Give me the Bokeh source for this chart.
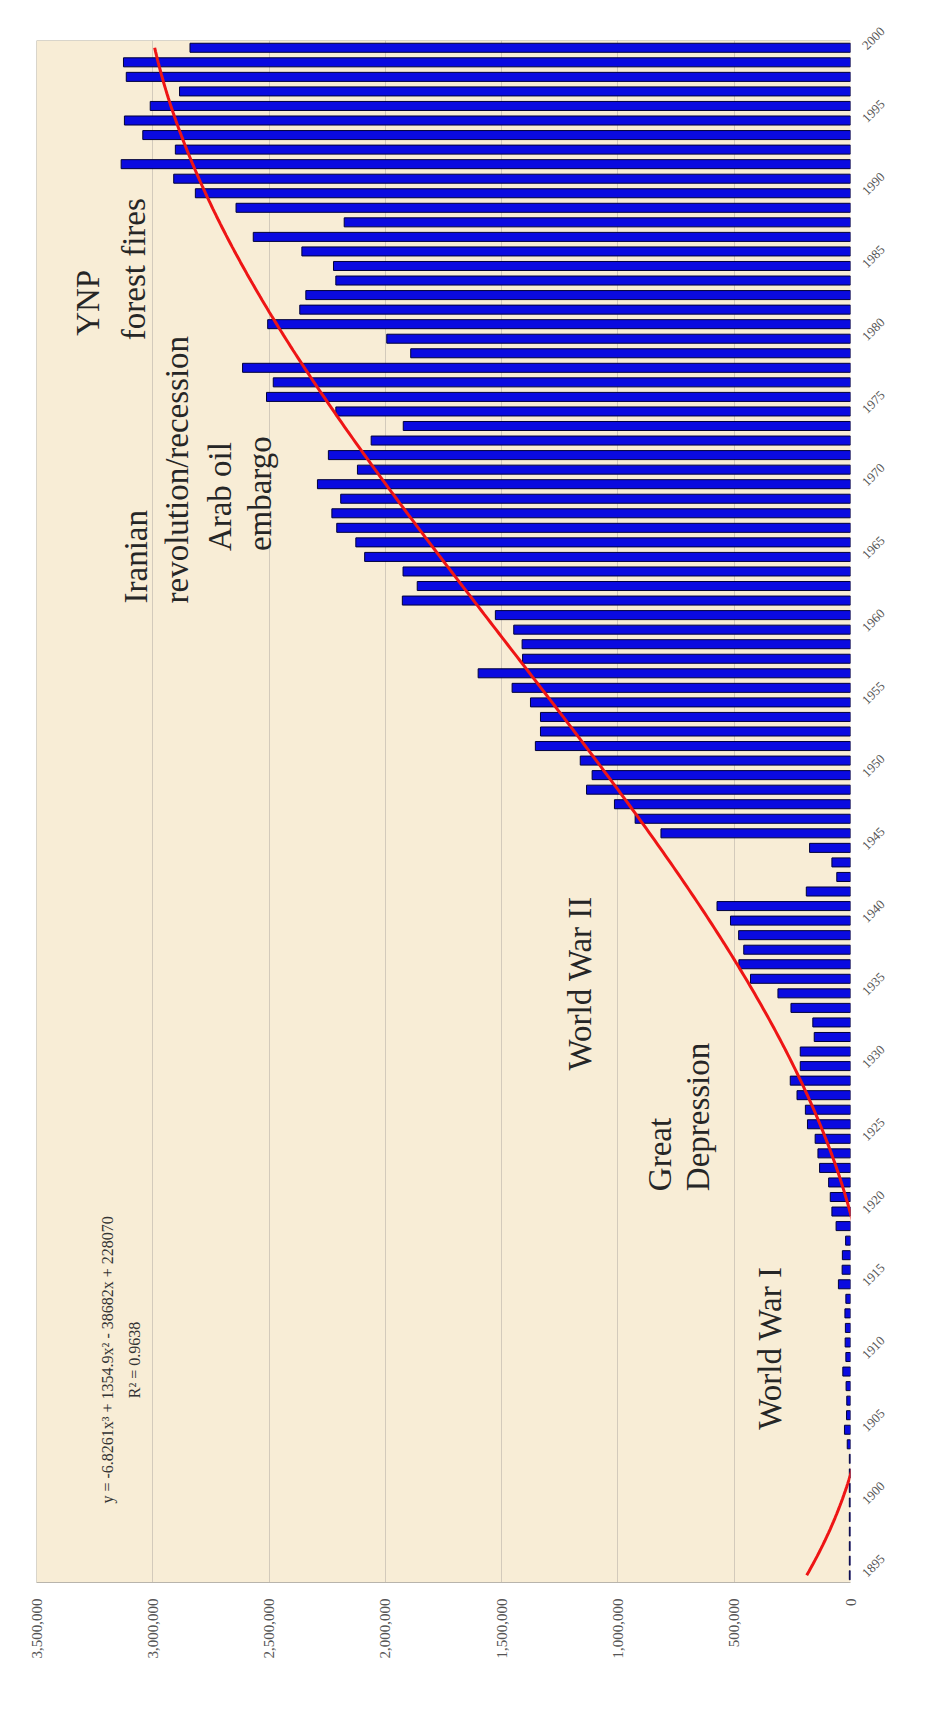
import numpy as np
from math import pi
from bokeh.plotting import figure
from bokeh.models import Range1d, FixedTicker, NumeralTickFormatter, Span
from bokeh.core.properties import value
from bokeh.embed import file_html
from bokeh.resources import INLINE

# ---- data ----
years = list(range(1895, 2001))
visitors = [
    5000, 5000, 5000, 5000, 5000, 5000, 5000, 5000, 5000,            # 1895-1903
    14000, 26000, 17000, 16000, 19000, 33000, 20000, 23000, 22000,   # 1904-1912
    24000, 20000, 52000, 36000, 35000, 21000, 62000,                 # 1913-1919
    80000, 87000, 94000, 133000, 140000, 152000, 185000, 194000,     # 1920-1927
    230000, 259000, 216000, 216000, 156000, 162000, 256000, 312000,  # 1928-1935
    430000, 480000, 459000, 481000, 516000, 574000, 190000, 59000,   # 1936-1943
    80000, 176000, 815000, 926000, 1015000, 1135000, 1111000,        # 1944-1950
    1162000, 1355000, 1333000, 1333000, 1376000, 1455000, 1601000,   # 1951-1957
    1410000, 1412000, 1448000, 1527000, 1927000, 1863000, 1924000,   # 1958-1964
    2089000, 2127000, 2209000, 2230000, 2192000, 2292000, 2120000,   # 1965-1971
    2245000, 2061000, 1923000, 2213000, 2511000, 2482000, 2614000,   # 1972-1978
    1891000, 1994000, 2506000, 2368000, 2342000, 2213000, 2223000,   # 1979-1985
    2359000, 2568000, 2177000, 2642000, 2817000, 2910000, 3136000,   # 1986-1992
    2903000, 3043000, 3122000, 3011000, 2885000, 3114000, 3126000,   # 1993-1999
    2840000,                                                         # 2000
]
value_ticks = [0, 500000, 1000000, 1500000, 2000000, 2500000, 3000000, 3500000]
year_ticks = list(range(1895, 2001, 5))

equation_text = "y = -6.8261x\u00b3 + 1354.9x\u00b2 - 38682x + 228070"
r2_text = "R\u00b2 = 0.9638"

# annotation labels (text, value-axis anchor, year anchor)
notes = [
    ("YNP", 3279000, 1980.2),
    ("forest fires", 3082000, 1979.9),
    ("Iranian", 3073000, 1961.8),
    ("revolution/recession", 2897000, 1961.8),
    ("Arab oil", 2712000, 1965.4),
    ("embargo", 2540000, 1965.4),
    ("World War II", 1163000, 1929.7),
    ("Great", 820000, 1921.4),
    ("Depression", 657000, 1921.4),
    ("World War I", 348000, 1905.0),
]

# ---- trendline: cubic least-squares fit of the bars ----
xi = np.array(years, dtype=float) - 1894.0
coef = np.polyfit(xi, np.array(visitors, dtype=float), 3)
ty = np.linspace(1895, 2000, 400)
tx = np.polyval(coef, ty - 1894.0)

SERIF = "Liberation Serif"

p = figure(width=920, height=1698, output_backend="svg", toolbar_location=None,
           x_range=Range1d(3500000, 0), y_range=Range1d(1894.5, 2000.5),
           min_border_left=36, min_border_right=70, min_border_top=40, min_border_bottom=116,
           x_axis_location="below", y_axis_location="right")
p.background_fill_color = "#f8edd6"
p.border_fill_color = "white"
p.outline_line_color = None

# axes
xa = p.xaxis[0]
xa.ticker = FixedTicker(ticks=value_ticks)
xa.formatter = NumeralTickFormatter(format="0,0")
xa.major_label_orientation = pi / 2
xa.major_label_text_font = SERIF
xa.major_label_text_font_size = "15px"
xa.major_label_text_color = "#555555"
xa.major_tick_in = 0
xa.major_tick_out = 0
xa.minor_tick_in = 0
xa.minor_tick_out = 0
xa.axis_line_color = "#b8b4ac"
xa.major_label_standoff = 16

ya = p.yaxis[0]
ya.ticker = FixedTicker(ticks=year_ticks)
ya.major_label_orientation = pi / 4
ya.major_label_text_font = SERIF
ya.major_label_text_font_size = "13px"
ya.major_label_text_color = "#555555"
ya.major_tick_in = 0
ya.major_tick_out = 0
ya.minor_tick_in = 0
ya.minor_tick_out = 0
ya.axis_line_color = None
ya.major_label_standoff = 14

p.xgrid.ticker = FixedTicker(ticks=value_ticks[1:-1])
p.xgrid.grid_line_color = "#d3cabb"
p.xgrid.grid_line_width = 1
p.ygrid.grid_line_color = None

# frame edges (left, top)
p.add_layout(Span(location=3500000, dimension="height", line_color="#b8b4ac", line_width=1))
p.add_layout(Span(location=2000.5, dimension="width", line_color="#b8b4ac", line_width=1))

# bars
p.hbar(y=years, left=0, right=visitors, height=0.62,
       fill_color="#0a0ae0", line_color="#00003a", line_width=1)

# trendline
p.line(tx, ty, line_color="#ee1515", line_width=3)

# annotations
p.text(x=[n[1] for n in notes], y=[n[2] for n in notes], text=[n[0] for n in notes],
       angle=pi / 2, text_align="left", text_baseline="middle",
       text_font=value(SERIF), text_font_size="33px", text_color="#262626")

p.text(x=[3195000], y=[1909.8], text=[equation_text], angle=pi / 2,
       text_align="center", text_baseline="middle",
       text_font=value(SERIF), text_font_size="16px", text_color="#333333")
p.text(x=[3080000], y=[1909.8], text=[r2_text], angle=pi / 2,
       text_align="center", text_baseline="middle",
       text_font=value(SERIF), text_font_size="16px", text_color="#333333")

open("out.html", "w").write(file_html(p, INLINE))
